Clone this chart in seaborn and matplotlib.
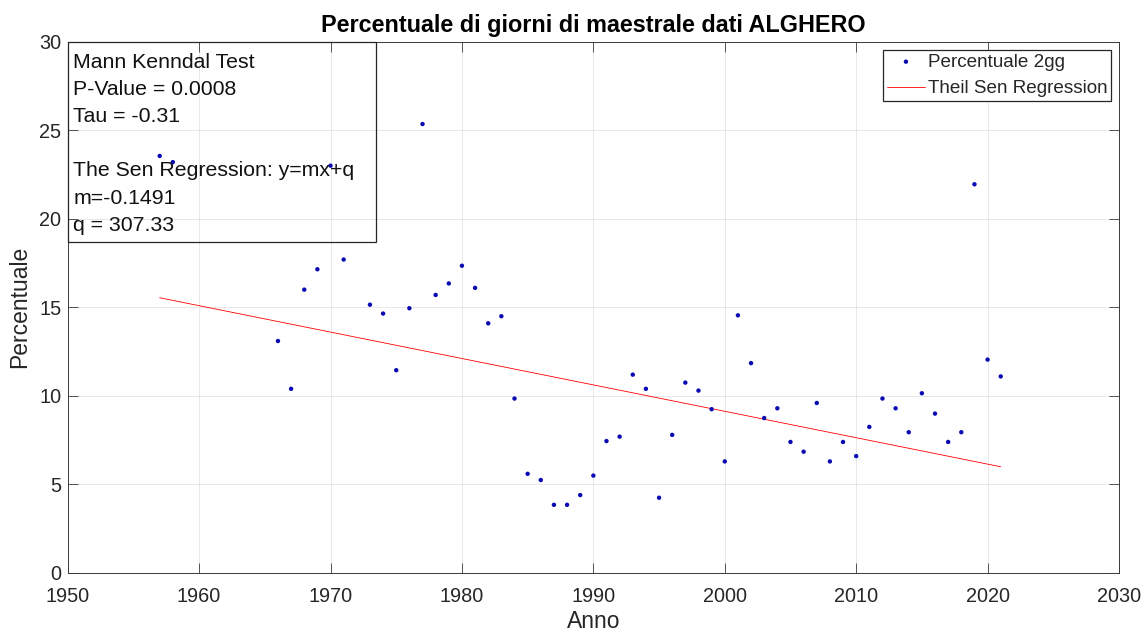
import matplotlib
matplotlib.use("Agg")
import matplotlib.pyplot as plt
from matplotlib.patches import Rectangle
import numpy as np
import pandas as pd
import seaborn as sns

# ---------------- data ----------------
years = [1957, 1958, 1966, 1967, 1968, 1969, 1970, 1971, 1973, 1974, 1975, 1976,
         1977, 1978, 1979, 1980, 1981, 1982, 1983, 1984, 1985, 1986, 1987, 1988,
         1989, 1990, 1991, 1992, 1993, 1994, 1995, 1996, 1997, 1998, 1999, 2000,
         2001, 2002, 2003, 2004, 2005, 2006, 2007, 2008, 2009, 2010, 2011, 2012,
         2013, 2014, 2015, 2016, 2017, 2018, 2019, 2020, 2021]
percentuale = [23.55, 23.2, 13.1, 10.4, 16.0, 17.15, 23.0, 17.7, 15.15, 14.65, 11.45, 14.95,
               25.35, 15.7, 16.35, 17.35, 16.1, 14.1, 14.5, 9.85, 5.6, 5.25, 3.85, 3.85,
               4.4, 5.5, 7.45, 7.7, 11.2, 10.4, 4.25, 7.8, 10.75, 10.3, 9.25, 6.3,
               14.55, 11.85, 8.75, 9.3, 7.4, 6.85, 9.6, 6.3, 7.4, 6.6, 8.25, 9.85,
               9.3, 7.95, 10.15, 9.0, 7.4, 7.95, 21.95, 12.05, 11.1]

m_slope = -0.1491
q_intercept = 307.33
p_value = 0.0008
tau = -0.31

title = "Percentuale di giorni di maestrale dati ALGHERO"
x_label = "Anno"
y_label = "Percentuale"
series_labels = ["Percentuale 2gg", "Theil Sen Regression"]
x_ticks = [1950, 1960, 1970, 1980, 1990, 2000, 2010, 2020, 2030]
y_ticks = [0, 5, 10, 15, 20, 25, 30]

info_lines = [
    "Mann Kenndal Test",
    f"P-Value = {p_value}",
    f"Tau = {tau}",
    "",
    "The Sen Regression: y=mx+q",
    f"m={m_slope}",
    f"q = {q_intercept}",
]

# ---------------- style ----------------
sns.set_theme(style="white")
plt.rcParams["font.family"] = ["Liberation Sans", "DejaVu Sans"]

W, H = 1146, 631
fig = plt.figure(figsize=(W / 100, H / 100), dpi=100)
ax_l, ax_r, ax_t, ax_b = 67.7, 1119.0, 41.7, 573.0
ax = fig.add_axes([ax_l / W, 1 - ax_b / H, (ax_r - ax_l) / W, (ax_b - ax_t) / H])

df = pd.DataFrame({"Anno": years, "Percentuale": percentuale})
df["Fit"] = m_slope * df["Anno"] + q_intercept

sns.lineplot(data=df, x="Anno", y="Fit", ax=ax, color="#ff0000", linewidth=0.6,
             label=series_labels[1], zorder=2)
sns.scatterplot(data=df, x="Anno", y="Percentuale", ax=ax, color="#0a0ab4", s=10,
                edgecolor="none", linewidth=0, label=series_labels[0], zorder=3)

ax.set_xlim(1950, 2030)
ax.set_ylim(0, 30)
ax.set_xticks(x_ticks)
ax.set_yticks(y_ticks)
ax.grid(True, color="#e4e4e4", linewidth=0.6)
ax.set_axisbelow(True)

axis_color = "#3a3a3a"
for sp in ax.spines.values():
    sp.set_visible(True)
    sp.set_color(axis_color)
    sp.set_linewidth(0.7)

ax.tick_params(axis="both", direction="in", length=7, width=0.6, colors=axis_color,
               labelcolor="#262626", labelsize=14.3, top=True, right=True,
               bottom=True, left=True, labeltop=False, labelright=False)
ax.tick_params(axis="x", pad=10)
ax.tick_params(axis="y", pad=4.5)

ax.set_xlabel(x_label, fontsize=16.5, labelpad=3, color="#262626")
ax.set_ylabel(y_label, fontsize=16.5, labelpad=6, color="#262626")
ax.set_title(title, fontsize=16.8, fontweight="bold", pad=7, color="#000000")

# info text box (transparent, as in the original)
def ax_frac(px, py):
    return (px - ax_l) / (ax_r - ax_l), (ax_b - py) / (ax_b - ax_t)

bx0, by0 = ax_frac(ax_l, 241.7)
bx1, by1 = ax_frac(376.0, ax_t)
ax.add_patch(Rectangle((bx0, by0), bx1 - bx0, by1 - by0, transform=ax.transAxes,
                       facecolor="none", edgecolor="#262626", linewidth=0.9,
                       clip_on=False, zorder=4))
for i, line in enumerate(info_lines):
    tx, ty = ax_frac(73.3, 68.3 + 27.05 * i)
    ax.text(tx, ty, line, transform=ax.transAxes, fontsize=15.3, va="baseline",
            ha="left", color="#111111", zorder=5)

handles, labels = ax.get_legend_handles_labels()
order = [labels.index(series_labels[0]), labels.index(series_labels[1])]
leg = ax.legend([handles[i] for i in order], [labels[i] for i in order],
                loc="upper right", fontsize=13.6, frameon=True, fancybox=False,
                framealpha=1, edgecolor="#262626", borderpad=0.2,
                labelspacing=0.5, handlelength=2.0, handletextpad=0.15,
                borderaxespad=0.42)
leg.get_frame().set_linewidth(0.9)

fig.savefig("out.png", dpi=100)
